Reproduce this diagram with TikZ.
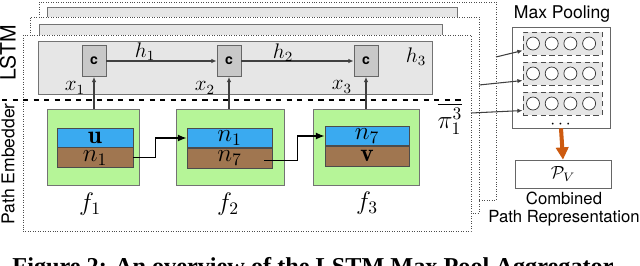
\documentclass[tikz,border=0pt]{standalone}
\usepackage{amsmath,amssymb}
\usepackage{fontspec}
\setsansfont{TeX Gyre Heros}
\newfontfamily\capfont{Liberation Serif}
\usepackage{xcolor}
\usepackage{tikz}
\usetikzlibrary{positioning, arrows.meta, fit, calc}
\definecolor{lstmgray}{RGB}{230,230,230}
\definecolor{cellgray}{RGB}{200,200,200}
\definecolor{embgreen}{RGB}{182,245,152}
\definecolor{nodeblue}{RGB}{58,170,240}
\definecolor{nodebrown}{RGB}{160,118,80}
\definecolor{poolorange}{RGB}{205,90,15}
\tikzset{
  layerbox/.style={rectangle, draw=black!70, densely dotted, fill=white, inner sep=0pt},
  lstmbox/.style={rectangle, draw=black!55, fill=lstmgray, inner sep=0pt},
  cellbox/.style={rectangle, draw=black!60, fill=cellgray, minimum width=0.48cm,
                  minimum height=0.62cm, font=\footnotesize\sffamily\bfseries},
  embbox/.style={rectangle, draw=black!55, fill=embgreen, minimum height=1.52cm},
  topband/.style={rectangle, draw=black!70, fill=nodeblue, minimum height=0.38cm,
                  inner sep=0pt, font=\Large},
  botband/.style={rectangle, draw=black!70, fill=nodebrown, minimum height=0.40cm,
                  inner sep=0pt, font=\Large},
  rowbox/.style={rectangle, draw=black!70, densely dashed, fill=lstmgray,
                 minimum width=1.58cm, minimum height=0.46cm},
  unit/.style={circle, draw=black!80, fill=white, minimum size=0.26cm, inner sep=0pt},
  plainbox/.style={rectangle, draw=black!60, inner sep=0pt},
  sidelabel/.style={rotate=90, font=\sffamily},
  cellarr/.style={-{Latex[length=3pt,width=2.5pt]}, draw=black!75, semithick},
  patharr/.style={-{Latex[length=5pt,width=4pt]}, thick, draw=black},
  poolarr/.style={-{Triangle[length=7pt,width=7pt]}, line width=2.3pt, draw=poolorange},
}

\begin{document}
\begin{tikzpicture}[x=0.02cm, y=-0.02cm]

  \useasboundingbox (0,0) rectangle (640,265);
  \clip (0,0) rectangle (640,265);

  % stacked layers
  \node[layerbox, fit={(39,2) (496,200)}]   (layer3) {};
  \node[lstmbox,  fit={(47,7) (457,50)}]    (lstm3)  {};
  \node[layerbox, fit={(30,17) (479,213)}]  (layer2) {};
  \node[lstmbox,  fit={(39,24) (442,60)}]   (lstm2)  {};
  \node[layerbox, fit={(23,35) (471,231)}]  (layer1) {};
  \node[lstmbox,  fit={(38,41) (432,94)}]   (lstm1)  {};

  \node[sidelabel, font=\sffamily\large] (lstmlab) at (8,53)  {LSTM};
  \node[sidelabel]                       (pelab)   at (8,164) {Path Embedder};

  \draw[dashed, semithick] (2,100) -- (462,100);

  % LSTM cells
  \node[cellbox] (c1) at (94,61)  {c};
  \node[cellbox] (c2) at (229,61) {c};
  \node[cellbox] (c3) at (366,61) {c};
  \draw[cellarr] (c1) -- (c2);
  \draw[cellarr] (c2) -- (c3);

  \node[font=\large] (h1) at (145,52) {$h_1$};
  \node[font=\large] (h2) at (283,53) {$h_2$};
  \node[font=\large] (h3) at (416,57) {$h_3$};
  \node[font=\large] (x1) at (75,88)  {$x_1$};
  \node[font=\large] (x2) at (205,88) {$x_2$};
  \node[font=\large] (x3) at (342,87) {$x_3$};

  % path embedder
  \node[embbox, minimum width=1.84cm] (g1) at (93,147)  {};
  \node[embbox, minimum width=2.16cm] (g2) at (230,147) {};
  \node[embbox, minimum width=2.12cm] (g3) at (366,147) {};

  \node[topband, minimum width=1.52cm] (t1) at (95,137.5)  {$\mathbf{u}$};
  \node[botband, minimum width=1.52cm, below=0pt of t1] (b1) {$n_1$};
  \node[topband, minimum width=1.70cm] (t2) at (229.5,138) {$n_1$};
  \node[botband, minimum width=1.70cm, below=0pt of t2] (b2) {$n_7$};
  \node[topband, minimum width=1.68cm] (t3) at (367,136)   {$n_7$};
  \node[botband, minimum width=1.68cm, below=0pt of t3] (b3) {$\mathbf{v}$};

  \draw[cellarr] (g1.north -| c1.south) -- (c1.south);
  \draw[cellarr] (g2.north -| c2.south) -- (c2.south);
  \draw[cellarr] (g3.north -| c3.south) -- (c3.south);

  \draw[patharr] (b1.east) -- ++(22,0) |- (t2.west);
  \draw[patharr] ($(b2.east)+(-8,2)$) -- ++(33,0) |- (t3.west);

  \node[font=\Large] (f1) at (90,204)  {$f_1$};
  \node[font=\Large] (f2) at (228,204) {$f_2$};
  \node[font=\Large] (f3) at (367,203) {$f_3$};

  \node[font=\Large] (pi) at (450,119) {$\overline{\pi_1^3}$};

  % max pooling
  \node[plainbox, fit={(512,27) (610,128)}] (pool) {};
  \node[font=\sffamily] (poollab) at (562,14) {Max Pooling};
  \foreach \r/\y in {1/43.5, 2/73.5, 3/103.5} {
    \node[rowbox] (row\r) at (562.5,\y) {};
    \foreach \i in {0,...,3}
      \node[unit] (u\r\i) at ({533+18.7*\i},\y) {};
  }
  \node (dots) at (562,125) {$\cdots$};

  \coordinate (o3) at (496,57);
  \coordinate (o2) at (479,85);
  \coordinate (o1) at (471,113);
  \draw[cellarr] (o3) -- (row1.190);
  \draw[cellarr] (o2) -- (row2.190);
  \draw[cellarr] (o1) -- (row3.190);

  \node[plainbox, minimum width=1.92cm, minimum height=0.56cm] (pv) at (563,174) {$\mathcal{P}_V$};
  \draw[poolarr] (pool.south) -- (pv.north);

  \node[font=\fontsize{9.5}{10.5}\selectfont\sffamily, align=center] (comb) at (564,209)
    {Combined\\Path Representation};

  \node[font=\capfont\bfseries\fontsize{13.8}{15}\selectfont, anchor=base] (cap) at (313,274)
    {Figure 2: An overview of the LSTM Max Pool Aggregator};

\end{tikzpicture}
\end{document}
